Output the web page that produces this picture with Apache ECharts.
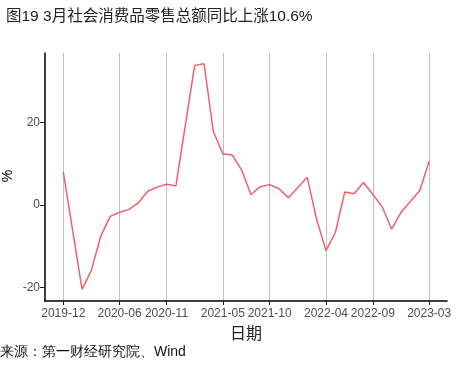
<!DOCTYPE html>
<html>
<head>
<meta charset="utf-8">
<script src="https://cdn.jsdelivr.net/npm/echarts@6/dist/echarts.min.js"></script>
<style>
html,body{margin:0;padding:0;background:#fff;}
#c{width:474px;height:368px;}
</style>
</head>
<body>
<div id="c"></div>
<script>
const titleText = '图19 3月社会消费品零售总额同比上涨10.6%';
const sourceText = '来源：第一财经研究院、Wind';
const yAxisName = '%';
const dates = ['2019-12','2020-02','2020-03','2020-04','2020-05','2020-06','2020-07','2020-08','2020-09','2020-10','2020-11','2020-12',
  '2021-02','2021-03','2021-04','2021-05','2021-06','2021-07','2021-08','2021-09','2021-10','2021-11','2021-12',
  '2022-02','2022-03','2022-04','2022-05','2022-06','2022-07','2022-08','2022-09','2022-10','2022-11','2022-12',
  '2023-02','2023-03'];
const values = [8.0,-20.5,-15.8,-7.5,-2.8,-1.8,-1.1,0.5,3.3,4.3,5.0,4.6,
  33.8,34.2,17.7,12.4,12.1,8.5,2.5,4.4,4.9,3.9,1.7,
  6.7,-3.5,-11.1,-6.7,3.1,2.7,5.4,2.5,-0.5,-5.9,-1.8,
  3.5,10.6];
const xTickLabels = ['2019-12','2020-06','2020-11','2021-05','2021-10','2022-04','2022-09','2023-03'];
const yTicks = [-20, 0, 20];

function monthIndex(s){
  const p = s.split('-');
  return (parseInt(p[0],10) - 2019) * 12 + parseInt(p[1],10) - 12;
}
const xTickVals = xTickLabels.map(monthIndex);
const labelByIdx = {};
xTickLabels.forEach(function(l){ labelByIdx[monthIndex(l)] = l; });
const seriesData = dates.map(function(d,i){ return [monthIndex(d), values[i]]; });

const FONT = 'Liberation Sans, Arial, "Noto Sans CJK SC", sans-serif';
const chart = echarts.init(document.getElementById('c'), null, {renderer:'canvas'});
chart.setOption({
  animation: false,
  backgroundColor: '#fff',
  title: [{
    text: titleText, left: 1, top: 4,
    textStyle: {fontSize: 15.5, fontWeight: 'normal', color: '#222', fontFamily: FONT}
  }],
  graphic: [{
    type: 'text', left: 0, top: 345,
    style: {text: sourceText, fontSize: 14, fill: '#111', font: '14px ' + FONT}
  }, {
    type: 'text', x: 8, y: 176, rotation: Math.PI / 2,
    style: {text: yAxisName, font: '14px ' + FONT, fill: '#000', align: 'center', verticalAlign: 'middle'}
  }],
  grid: {left: 45, right: 27, top: 53, bottom: 67, containLabel: false, outerBoundsMode: 'none'},
  xAxis: {
    type: 'value', min: -1.95, max: 40.9,
    name: '日期', nameLocation: 'middle', nameGap: 26,
    nameTextStyle: {fontSize: 16, color: '#222', fontFamily: FONT},
    axisLine: {show: true, onZero: false, lineStyle: {color: '#000', width: 1.5}},
    axisTick: {show: true, length: 4, customValues: xTickVals, lineStyle: {color: '#222'}},
    axisLabel: {customValues: xTickVals, margin: 7, fontSize: 12, color: '#4d4d4d', fontFamily: FONT,
      formatter: function(v){ return labelByIdx[Math.round(v)] || ''; }},
    splitLine: {show: true, lineStyle: {color: '#bfbfbf', width: 1}}
  },
  yAxis: {
    type: 'value', min: -23.3, max: 36.8,
    axisLine: {show: true, onZero: false, lineStyle: {color: '#000', width: 1.5}},
    axisTick: {show: true, length: 5, customValues: yTicks, lineStyle: {color: '#222'}},
    axisLabel: {customValues: yTicks, margin: 5, fontSize: 12, color: '#4d4d4d', fontFamily: FONT},
    splitLine: {show: false}
  },
  series: [{
    type: 'line', data: seriesData, showSymbol: false, symbol: 'none',
    lineStyle: {color: '#F0606A', width: 1.5}
  }]
});
</script>
</body>
</html>
